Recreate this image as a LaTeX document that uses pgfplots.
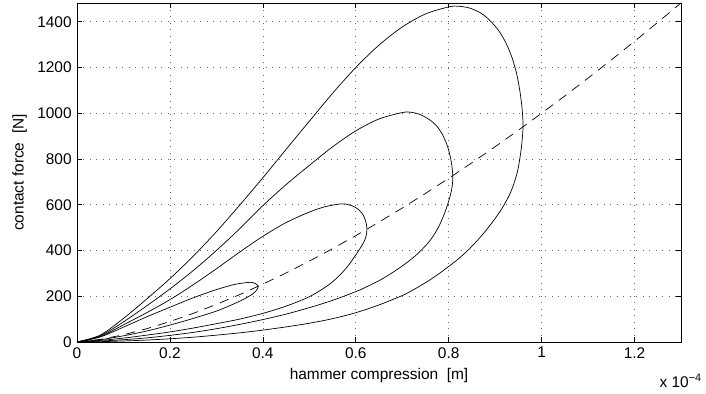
\documentclass[border=0pt]{standalone}
\usepackage{pgfplots}
\pgfplotsset{compat=1.18}
\usepackage{fontspec}
\setmainfont{Liberation Sans}
\begin{document}
\fontsize{15.5}{18}\selectfont
\begin{tikzpicture}
\begin{axis}[
  scale only axis, width=604bp, height=339bp,
  xmin=0, xmax=1.3, ymin=0, ymax=1482,
  xtick={0,0.2,0.4,0.6,0.8,1,1.2},
  ytick={0,200,400,600,800,1000,1200,1400},
  tick align=inside, major tick length=5bp,
  xtick pos=both, ytick pos=both,
  grid=major, grid style={black!60, line width=0.6bp, dash pattern=on 0.8bp off 5.7bp},
  axis line style={line width=0.8bp},
  tick style={black, line width=0.6bp},
  /pgf/number format/assume math mode=true,
  /pgf/number format/1000 sep={},
  xticklabel style={font=\fontsize{15.5}{18}\selectfont},
  yticklabel style={font=\fontsize{15.5}{18}\selectfont},
  xlabel={hammer compression\ \ [m]},
  ylabel={contact force\ \ [N]},
  label style={font=\fontsize{15.5}{18}\selectfont},
]
\addplot[black, line width=0.7bp, dash pattern=on 9.5bp off 7bp] coordinates {
(0,0) (0.05,11.2) (0.1,31.6) (0.15,58.1) (0.2,89.4) (0.25,125) (0.3,164.3) (0.35,207.1) (0.4,253) (0.45,301.9) (0.5,353.6) (0.55,407.9) (0.6,464.8) (0.65,524.1) (0.7,585.7) (0.75,649.5) (0.8,715.5) (0.85,783.7) (0.9,853.8) (0.95,926.0) (1.0,1000) (1.05,1075.9) (1.1,1153.7) (1.15,1233.2) (1.2,1314.5) (1.25,1397.5) (1.3,1482.2)};
% loop 1
\addplot[black, line width=0.7bp, smooth, tension=0.5] coordinates {
(0,0) (0.05,22) (0.1,65) (0.15,110) (0.2,152) (0.25,193) (0.3,229) (0.34,252) (0.3727,261) (0.384,255) (0.39,244)
(0.387,228) (0.378,210) (0.358,186) (0.33,160) (0.3,135) (0.25,103) (0.2,74) (0.15,48) (0.1,27) (0.05,10) (0,0)};
% loop 2
\addplot[black, line width=0.7bp, smooth, tension=0.5] coordinates {
(0,0) (0.05,24) (0.1,75) (0.15,128) (0.2,185) (0.25,250) (0.3,320) (0.35,393) (0.4,462) (0.45,522) (0.5,568) (0.535,592) (0.569,604) (0.585,600) (0.598,590) (0.608,575) (0.616,555) (0.621,530) (0.6238,502) (0.6235,478)
(0.621,455) (0.616,432) (0.608,405) (0.598,375) (0.588,345) (0.576,315) (0.562,285) (0.545,255) (0.525,227) (0.5,198) (0.47,172) (0.44,150) (0.4,125) (0.35,100) (0.3,80) (0.25,61) (0.2,44) (0.15,30) (0.1,17) (0.05,7) (0,0)};
% loop 3
\addplot[black, line width=0.7bp, smooth, tension=0.5] coordinates {
(0,0) (0.05,27) (0.1,88) (0.15,158) (0.2,232) (0.25,312) (0.3,400) (0.35,495) (0.4,596) (0.45,688) (0.5,772) (0.55,853) (0.6,923) (0.65,975) (0.7,1003) (0.72,1004) (0.74,993) (0.76,970) (0.775,942) (0.787,905) (0.797,858) (0.8035,810) (0.8072,765) (0.8088,726) (0.8082,693)
(0.806,663) (0.802,630) (0.796,590) (0.788,547) (0.778,502) (0.765,458) (0.75,420) (0.73,380) (0.71,347) (0.69,318) (0.67,292) (0.65,268) (0.62,238) (0.6,220) (0.55,182) (0.5,150) (0.45,122) (0.4,98) (0.35,77) (0.3,58) (0.25,42) (0.2,29) (0.15,18) (0.1,10) (0.05,4) (0,0)};
% loop 4
\addplot[black, line width=0.7bp, smooth, tension=0.5] coordinates {
(0,0) (0.05,30) (0.1,103) (0.15,188) (0.2,277) (0.25,375) (0.3,482) (0.35,598) (0.4,718) (0.45,842) (0.5,965) (0.55,1087) (0.6,1200) (0.65,1298) (0.7,1377) (0.75,1434) (0.8,1465) (0.82,1468) (0.845,1460) (0.87,1437) (0.89,1403) (0.908,1360) (0.923,1308) (0.936,1245) (0.946,1175) (0.953,1100) (0.958,1020) (0.96,941)
(0.957,860) (0.953,800) (0.948,745) (0.94,690) (0.93,640) (0.915,585) (0.9,540) (0.88,487) (0.86,440) (0.84,398) (0.82,362) (0.8,330) (0.78,300) (0.76,272) (0.74,247) (0.72,224) (0.7,203) (0.65,162) (0.6,128) (0.55,102) (0.5,82) (0.45,66) (0.4,52) (0.35,40) (0.3,30) (0.25,21) (0.2,14) (0.15,8.5) (0.1,4.5) (0.05,1.5) (0,0)};
\end{axis}
\node[anchor=base east, font=\fontsize{15.5}{18}\selectfont] at ([xshift=26bp,yshift=-45bp]current axis.south east) {x 10\textsuperscript{−4}};
\pgfresetboundingbox
\path ([xshift=-77bp,yshift=-52bp]current axis.south west) rectangle ([xshift=25bp,yshift=3bp]current axis.north east);
\end{tikzpicture}
\end{document}
